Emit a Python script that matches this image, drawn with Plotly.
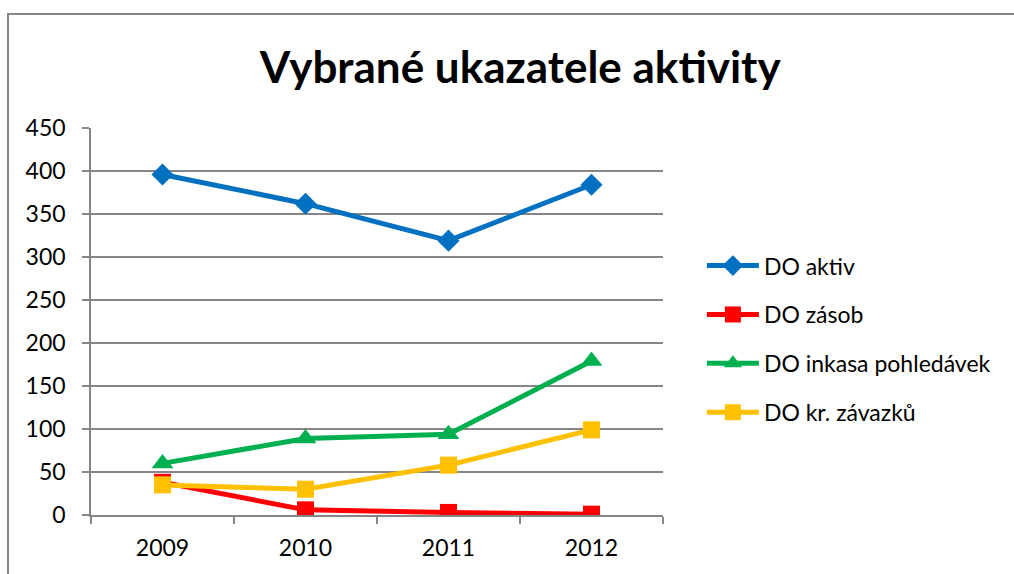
import plotly.graph_objects as go

years = ["2009", "2010", "2011", "2012"]
do_aktiv = [396, 362, 319, 384]
do_zasob = [38, 6, 3, 1]
do_inkasa = [60, 89, 94, 179]
do_zavazku = [35, 30, 58, 99]
y_ticks = [0, 50, 100, 150, 200, 250, 300, 350, 400, 450]

series = [
    ("DO aktiv", do_aktiv, "#0070C0", "diamond", 17),
    ("DO zásob", do_zasob, "#FF0000", "square", 17),
    ("DO inkasa pohledávek", do_inkasa, "#00B050", "triangle-up", 19),
    ("DO kr. závazků", do_zavazku, "#FFC000", "square", 17),
]

fig = go.Figure()
for i, (name, vals, col, sym, sz) in enumerate(series):
    fig.add_trace(go.Scatter(
        x=years, y=vals, name=name, mode="lines+markers",
        line=dict(color=col, width=5),
        marker=dict(symbol=sym, size=sz, color=col),
        legendgroup=f"g{i}",
    ))

font_family = "Lato, Open Sans, sans-serif"
fig.update_layout(
    width=1014, height=574,
    margin=dict(l=91, r=351, t=128, b=59),
    plot_bgcolor="white", paper_bgcolor="white",
    title=dict(text="<b>Vybrané ukazatele aktivity</b>", x=0.513, xanchor="center",
               y=0.882, yanchor="middle",
               font=dict(family=font_family, size=44, color="black")),
    font=dict(family=font_family, size=23, color="black"),
    xaxis=dict(type="category", tickson="boundaries", ticks="outside", ticklen=7,
               tickcolor="#868686", tickwidth=1.5, showgrid=False,
               showline=True, linecolor="#868686", linewidth=1.5,
               tickfont=dict(size=23), range=[-0.5, 3.5], ticklabelstandoff=12),
    yaxis=dict(range=[0, 450], tickvals=y_ticks, ticks="outside", ticklen=7,
               tickcolor="#868686", tickwidth=1.5, showgrid=True,
               gridcolor="#868686", gridwidth=1.5, showline=True,
               linecolor="#868686", linewidth=1.5, zeroline=False,
               tickfont=dict(size=23), ticklabelstandoff=12),
    legend=dict(x=1.068, y=0.70, xanchor="left", yanchor="top",
                font=dict(size=23), tracegroupgap=16, itemwidth=52,
                borderwidth=0, bgcolor="rgba(0,0,0,0)"),
    showlegend=True,
)

fig.add_shape(type="rect", xref="paper", yref="paper",
              x0=-83/572, x1=1.7, y0=-0.3, y1=(515-14)/387,
              line=dict(color="#868686", width=2), fillcolor="rgba(0,0,0,0)",
              layer="below")

fig.write_html("out.html", config={"displayModeBar": False},
               post_script="document.body.style.margin='0px';")
